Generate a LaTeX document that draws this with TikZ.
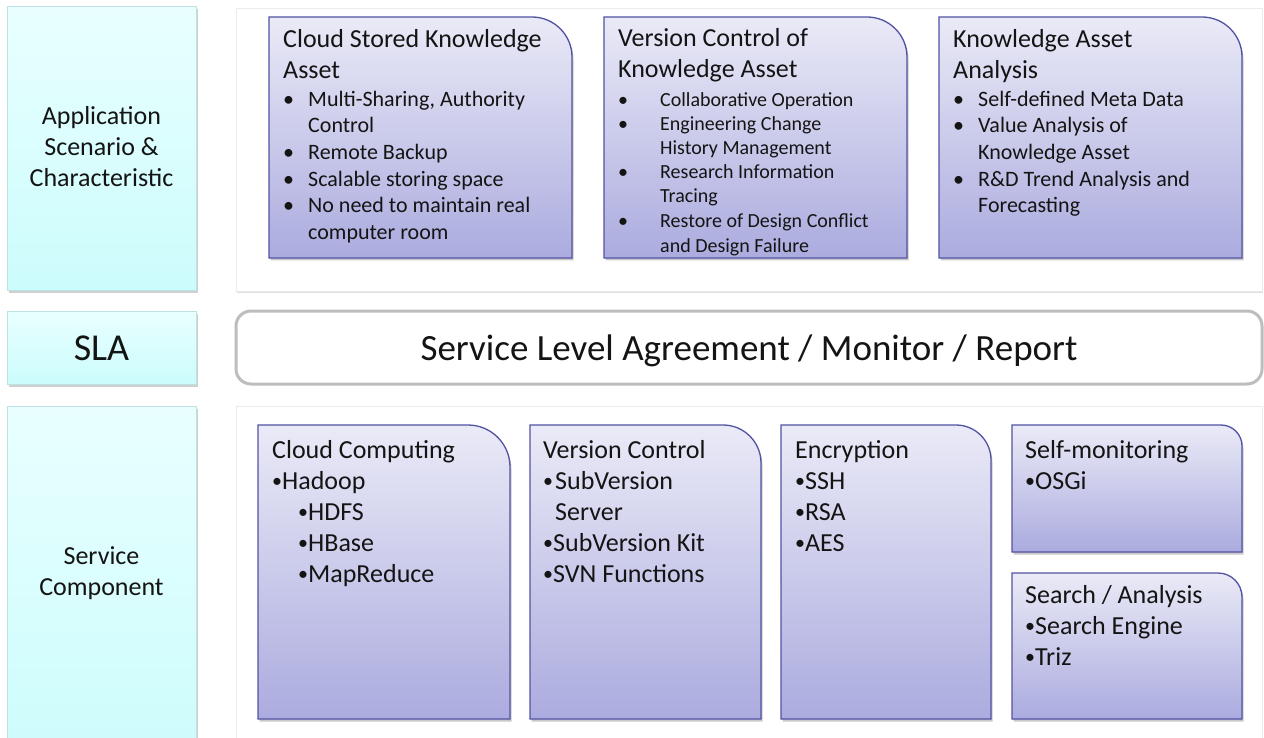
\documentclass[tikz,border=0pt]{standalone}
\usepackage{fontspec}
\setmainfont{Carlito}
\usetikzlibrary{shadows}

\definecolor{lavtop}{HTML}{EAEAF7}
\definecolor{lavbot}{HTML}{ABABDF}
\definecolor{lavline}{HTML}{5252A3}
\definecolor{cyantop}{HTML}{E9FFFF}
\definecolor{cyanbot}{HTML}{CCFCFC}
\definecolor{cyanline}{HTML}{BCE3E3}
\definecolor{slaline}{HTML}{BDBDBD}
\definecolor{panelline}{HTML}{EBEBEB}
\definecolor{ink}{HTML}{141414}

% box with a single rounded corner (top right): x1, y1, x2, y2, radius
\newcommand\kshape[5]{%
  \path[kbox] (#1,#4) -- (#1,#2) -- ({#3-#5},#2)
    .. controls ({#3-0.448*#5},#2) and (#3,{#2+0.448*#5}) .. (#3,{#2+#5})
    -- (#3,#4) -- cycle;}
% small bullet for the component lists
\newcommand\bul{\raisebox{1.5pt}{\fontsize{20}{20}\selectfont •}}

\begin{document}
\begin{tikzpicture}[x=1pt,y=-1pt,
  kbox/.style={top color=lavtop, bottom color=lavbot, draw=lavline, line width=1.3pt,
    drop shadow={shadow xshift=1.5pt, shadow yshift=-2.5pt, opacity=.35, fill=black!60}},
  cbox/.style={top color=cyantop, bottom color=cyanbot, draw=cyanline, line width=1pt,
    drop shadow={shadow xshift=1.5pt, shadow yshift=-2.5pt, opacity=.3, fill=black!60}},
  panel/.style={fill=white, draw=panelline, line width=.8pt,
    drop shadow={shadow xshift=1pt, shadow yshift=-2pt, opacity=.2, fill=black!60}},
  slabar/.style={fill=white, draw=slaline, line width=3pt, rounded corners=15pt},
  txt/.style={inner sep=0pt, anchor=base west, text=ink},
  ttl/.style={txt, font=\fontsize{26}{31}\selectfont},
  itm/.style={txt, font=\fontsize{22}{27}\selectfont},
  itms/.style={txt, font=\fontsize{20}{24}\selectfont},
  comp/.style={txt, font=\fontsize{26}{31}\selectfont},
  lab/.style={inner sep=0pt, anchor=base, text=ink, font=\fontsize{26}{31}\selectfont},
]
\useasboundingbox (0,0) rectangle (1264,738);
\fill[white] (0,0) rectangle (1264,738);

% ---- row labels ----
\path[cbox] (7,7) rectangle (196,290);
\path[cbox] (7,311) rectangle (196,384);
\path[cbox] (7,406) rectangle (196,760);
\node[lab] (app1) at (101.5,125) {Application};
\node[lab] (app2) at (101.5,156) {Scenario \&};
\node[lab] (app3) at (101.5,187) {Characteristic};
\node[lab, font=\fontsize{38}{44}\selectfont] (sla) at (101.5,360) {SLA};
\node[lab] (svc1) at (101.5,564) {Service};
\node[lab] (svc2) at (101.5,595) {Component};

% ---- panels ----
\path[panel] (236,8) rectangle (1262,291);
\path[slabar] (236,311) rectangle (1262,384);
\node[lab, font=\fontsize{37}{44}\selectfont] (slatext) at (749,360) {Service Level Agreement / Monitor / Report};
\path[panel] (236,406) rectangle (1262,760);

% ---- application scenarios ----
\kshape{269}{17}{572}{258}{40}
\node[ttl] (a1t1) at (283,48) {Cloud Stored Knowledge};
\node[ttl] (a1t2) at (283,79) {Asset};
\node[itm] (a1b1) at (283,107) {•};
\node[itm] (a1l1) at (308,107) {Multi-Sharing, Authority};
\node[itm] (a1l2) at (308,133) {Control};
\node[itm] (a1b2) at (283,160) {•};
\node[itm] (a1l3) at (308,160) {Remote Backup};
\node[itm] (a1b3) at (283,187) {•};
\node[itm] (a1l4) at (308,187) {Scalable storing space};
\node[itm] (a1b4) at (283,213) {•};
\node[itm] (a1l5) at (308,213) {No need to maintain real};
\node[itm] (a1l6) at (308,240) {computer room};

\kshape{604}{17}{907}{258}{40}
\node[ttl] (a2t1) at (618,47) {Version Control of};
\node[ttl] (a2t2) at (618,78) {Knowledge Asset};
\node[itms] (a2b1) at (618,107) {•};
\node[itms] (a2l1) at (660,107) {Collaborative Operation};
\node[itms] (a2b2) at (618,131) {•};
\node[itms] (a2l2) at (660,131) {Engineering Change};
\node[itms] (a2l3) at (660,155) {History Management};
\node[itms] (a2b3) at (618,179) {•};
\node[itms] (a2l4) at (660,179) {Research Information};
\node[itms] (a2l5) at (660,203) {Tracing};
\node[itms] (a2b4) at (618,228) {•};
\node[itms] (a2l6) at (660,228) {Restore of Design Conflict};
\node[itms] (a2l7) at (660,252) {and Design Failure};

\kshape{939}{17}{1242}{258}{40}
\node[ttl] (a3t1) at (953,48) {Knowledge Asset};
\node[ttl] (a3t2) at (953,79) {Analysis};
\node[itm] (a3b1) at (953,107) {•};
\node[itm] (a3l1) at (978,107) {Self-defined Meta Data};
\node[itm] (a3b2) at (953,133) {•};
\node[itm] (a3l2) at (978,133) {Value Analysis of};
\node[itm] (a3l3) at (978,160) {Knowledge Asset};
\node[itm] (a3b3) at (953,187) {•};
\node[itm] (a3l4) at (978,187) {R\&D Trend Analysis and};
\node[itm] (a3l5) at (978,213) {Forecasting};

% ---- service components ----
\kshape{258}{425}{510}{719}{42}
\node[comp] (c1t) at (272,458) {Cloud Computing};
\node[comp] (c1a) at (272,489) {\bul Hadoop};
\node[comp] (c1b) at (298,520) {\bul HDFS};
\node[comp] (c1c) at (298,551) {\bul HBase};
\node[comp] (c1d) at (298,582) {\bul MapReduce};

\kshape{530}{425}{761}{719}{38}
\node[comp] (c2t) at (543,458) {Version Control};
\node[comp] (c2b) at (543,489) {\bul};
\node[comp] (c2a) at (555,489) {SubVersion};
\node[comp] (c2s) at (555,520) {Server};
\node[comp] (c2c) at (543,551) {\bul SubVersion Kit};
\node[comp] (c2d) at (543,582) {\bul SVN Functions};

\kshape{781}{425}{991}{719}{35}
\node[comp] (c3t) at (795,458) {Encryption};
\node[comp] (c3a) at (795,489) {\bul SSH};
\node[comp] (c3b) at (795,520) {\bul RSA};
\node[comp] (c3c) at (795,551) {\bul AES};

\kshape{1012}{425}{1242}{552}{21}
\node[comp] (c4t) at (1025,458) {Self-monitoring};
\node[comp] (c4a) at (1025,489) {\bul OSGi};

\kshape{1012}{573}{1242}{719}{24}
\node[comp] (c5t) at (1025,603) {Search / Analysis};
\node[comp] (c5a) at (1025,634) {\bul Search Engine};
\node[comp] (c5b) at (1025,665) {\bul Triz};
\end{tikzpicture}
\end{document}
